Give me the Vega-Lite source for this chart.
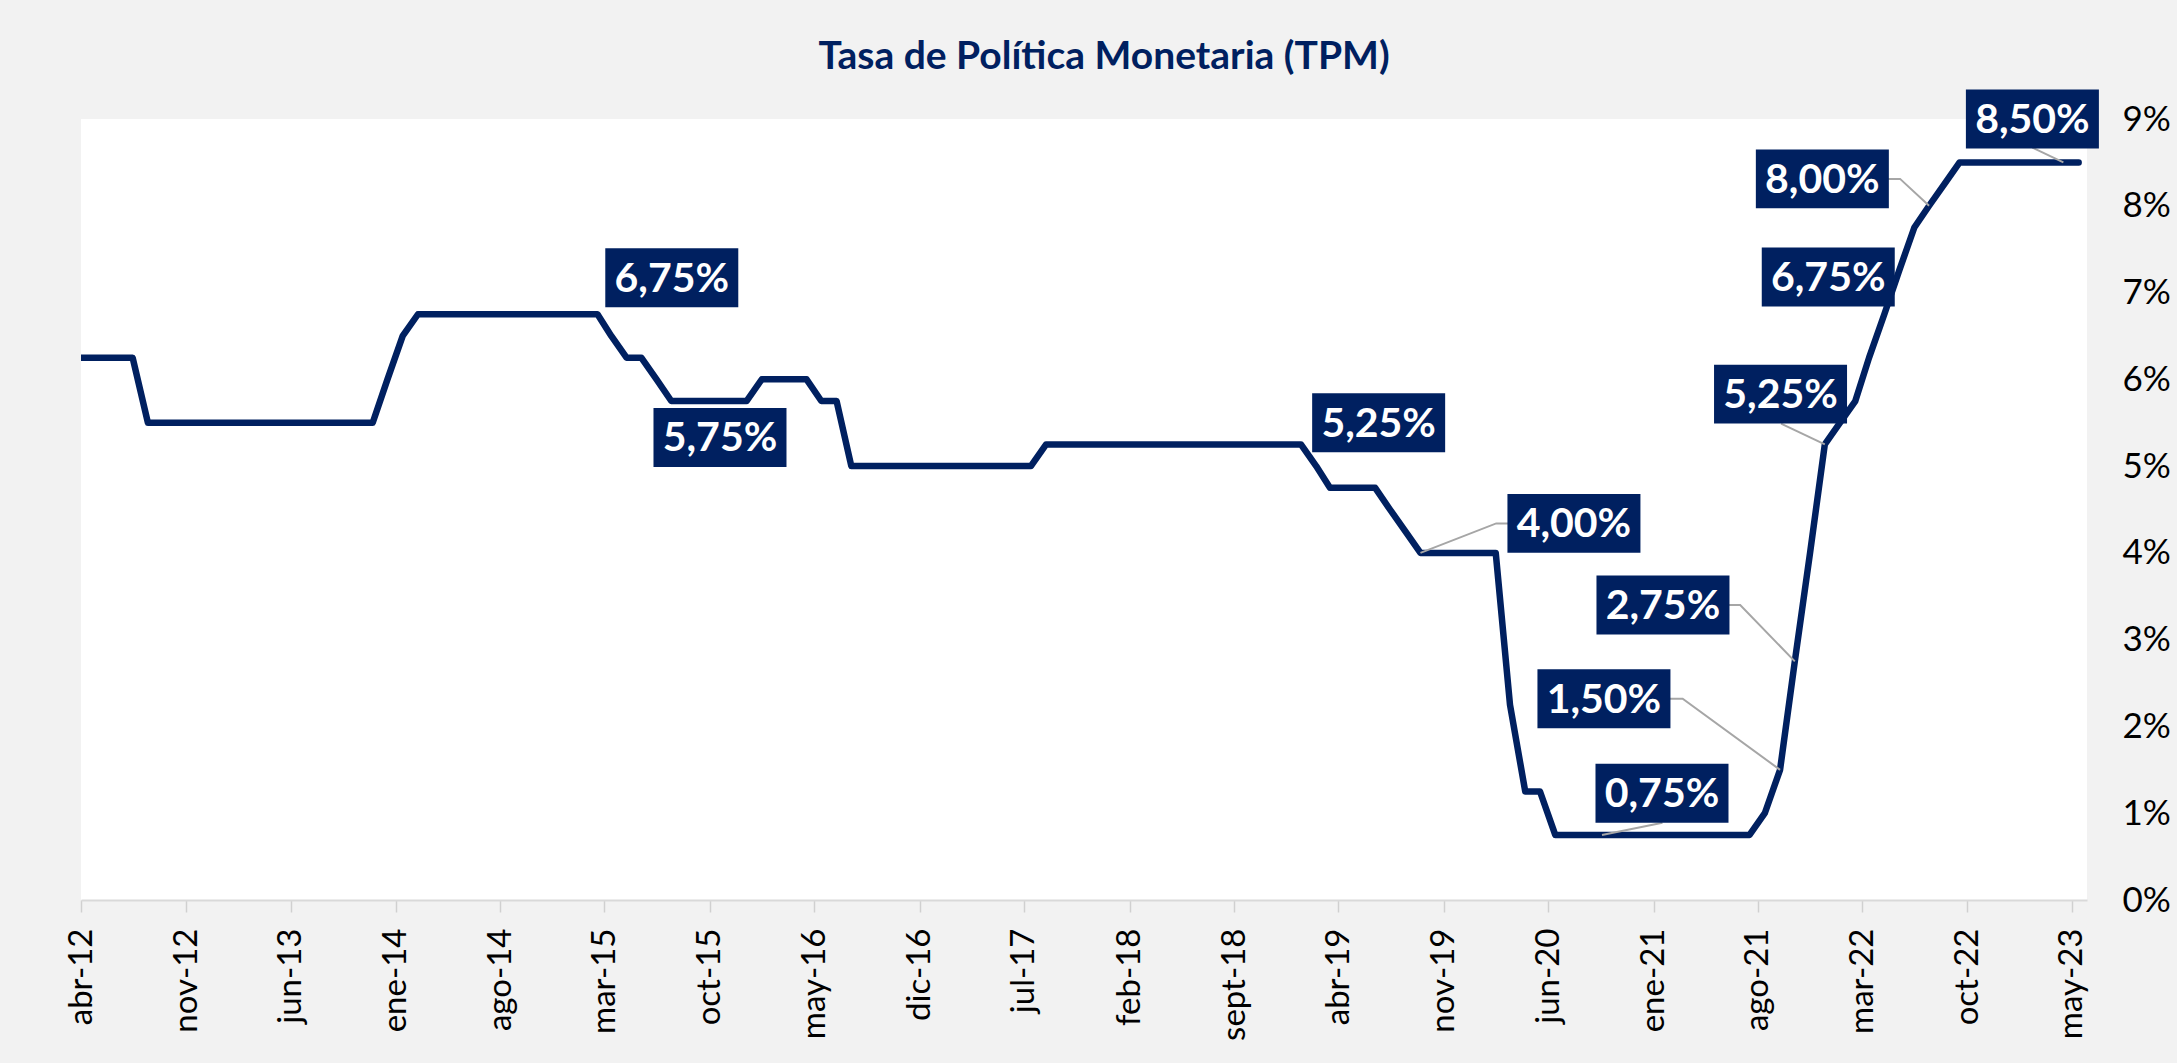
{
  "$schema": "https://vega.github.io/schema/vega-lite/v6.json",
  "width": 2006,
  "height": 781,
  "autosize": "none",
  "padding": {"left": 81, "top": 119, "right": 90, "bottom": 163},
  "background": "#f2f2f2",
  "config": {"view": {"fill": "white", "stroke": null}, "font": "Lato"},
  "title": {"text": "Tasa de Política Monetaria (TPM)", "color": "#002060", "font": "Lato", "fontSize": 39, "fontWeight": "bold", "anchor": "middle", "frame": "group", "baseline": "alphabetic", "offset": -18, "dx": 20},
  "datasets": {
    "tpm": [
      {"date": "2012-03-15", "value": 6.25}, {"date": "2012-04-15", "value": 6.25}, {"date": "2012-05-15", "value": 6.25}, {"date": "2012-06-15", "value": 6.25}, {"date": "2012-07-15", "value": 6.25},
      {"date": "2012-08-15", "value": 5.5}, {"date": "2012-09-15", "value": 5.5}, {"date": "2012-10-15", "value": 5.5}, {"date": "2012-11-15", "value": 5.5}, {"date": "2012-12-15", "value": 5.5},
      {"date": "2013-01-15", "value": 5.5}, {"date": "2013-02-15", "value": 5.5}, {"date": "2013-03-15", "value": 5.5}, {"date": "2013-04-15", "value": 5.5}, {"date": "2013-05-15", "value": 5.5}, {"date": "2013-06-15", "value": 5.5}, {"date": "2013-07-15", "value": 5.5}, {"date": "2013-08-15", "value": 5.5}, {"date": "2013-09-15", "value": 5.5}, {"date": "2013-10-15", "value": 5.5}, {"date": "2013-11-15", "value": 5.5}, {"date": "2013-12-15", "value": 6.0},
      {"date": "2014-01-15", "value": 6.5}, {"date": "2014-02-15", "value": 6.75}, {"date": "2014-03-15", "value": 6.75}, {"date": "2014-04-15", "value": 6.75}, {"date": "2014-05-15", "value": 6.75}, {"date": "2014-06-15", "value": 6.75}, {"date": "2014-07-15", "value": 6.75}, {"date": "2014-08-15", "value": 6.75}, {"date": "2014-09-15", "value": 6.75}, {"date": "2014-10-15", "value": 6.75}, {"date": "2014-11-15", "value": 6.75}, {"date": "2014-12-15", "value": 6.75},
      {"date": "2015-01-15", "value": 6.75}, {"date": "2015-02-15", "value": 6.75}, {"date": "2015-03-15", "value": 6.5}, {"date": "2015-04-15", "value": 6.25}, {"date": "2015-05-15", "value": 6.25}, {"date": "2015-06-15", "value": 6.0}, {"date": "2015-07-15", "value": 5.75}, {"date": "2015-08-15", "value": 5.75}, {"date": "2015-09-15", "value": 5.75}, {"date": "2015-10-15", "value": 5.75}, {"date": "2015-11-15", "value": 5.75}, {"date": "2015-12-15", "value": 5.75},
      {"date": "2016-01-15", "value": 6.0}, {"date": "2016-02-15", "value": 6.0}, {"date": "2016-03-15", "value": 6.0}, {"date": "2016-04-15", "value": 6.0}, {"date": "2016-05-15", "value": 5.75}, {"date": "2016-06-15", "value": 5.75}, {"date": "2016-07-15", "value": 5.0}, {"date": "2016-08-15", "value": 5.0}, {"date": "2016-09-15", "value": 5.0}, {"date": "2016-10-15", "value": 5.0}, {"date": "2016-11-15", "value": 5.0}, {"date": "2016-12-15", "value": 5.0},
      {"date": "2017-01-15", "value": 5.0}, {"date": "2017-02-15", "value": 5.0}, {"date": "2017-03-15", "value": 5.0}, {"date": "2017-04-15", "value": 5.0}, {"date": "2017-05-15", "value": 5.0}, {"date": "2017-06-15", "value": 5.0}, {"date": "2017-07-15", "value": 5.0}, {"date": "2017-08-15", "value": 5.25}, {"date": "2017-09-15", "value": 5.25}, {"date": "2017-10-15", "value": 5.25}, {"date": "2017-11-15", "value": 5.25}, {"date": "2017-12-15", "value": 5.25},
      {"date": "2018-01-15", "value": 5.25}, {"date": "2018-02-15", "value": 5.25}, {"date": "2018-03-15", "value": 5.25}, {"date": "2018-04-15", "value": 5.25}, {"date": "2018-05-15", "value": 5.25}, {"date": "2018-06-15", "value": 5.25}, {"date": "2018-07-15", "value": 5.25}, {"date": "2018-08-15", "value": 5.25}, {"date": "2018-09-15", "value": 5.25}, {"date": "2018-10-15", "value": 5.25}, {"date": "2018-11-15", "value": 5.25}, {"date": "2018-12-15", "value": 5.25},
      {"date": "2019-01-15", "value": 5.25}, {"date": "2019-02-15", "value": 5.0}, {"date": "2019-03-15", "value": 4.75}, {"date": "2019-04-15", "value": 4.75}, {"date": "2019-05-15", "value": 4.75}, {"date": "2019-06-15", "value": 4.75}, {"date": "2019-07-15", "value": 4.5}, {"date": "2019-08-15", "value": 4.25}, {"date": "2019-09-15", "value": 4.0}, {"date": "2019-10-15", "value": 4.0}, {"date": "2019-11-15", "value": 4.0}, {"date": "2019-12-15", "value": 4.0},
      {"date": "2020-01-15", "value": 4.0}, {"date": "2020-02-15", "value": 4.0}, {"date": "2020-03-15", "value": 2.25}, {"date": "2020-04-15", "value": 1.25}, {"date": "2020-05-15", "value": 1.25}, {"date": "2020-06-15", "value": 0.75}, {"date": "2020-07-15", "value": 0.75}, {"date": "2020-08-15", "value": 0.75}, {"date": "2020-09-15", "value": 0.75}, {"date": "2020-10-15", "value": 0.75}, {"date": "2020-11-15", "value": 0.75}, {"date": "2020-12-15", "value": 0.75},
      {"date": "2021-01-15", "value": 0.75}, {"date": "2021-02-15", "value": 0.75}, {"date": "2021-03-15", "value": 0.75}, {"date": "2021-04-15", "value": 0.75}, {"date": "2021-05-15", "value": 0.75}, {"date": "2021-06-15", "value": 0.75}, {"date": "2021-07-15", "value": 0.75}, {"date": "2021-08-15", "value": 1.0}, {"date": "2021-09-15", "value": 1.5}, {"date": "2021-10-15", "value": 2.75}, {"date": "2021-11-15", "value": 4.0}, {"date": "2021-12-15", "value": 5.25},
      {"date": "2022-01-15", "value": 5.5}, {"date": "2022-02-15", "value": 5.75}, {"date": "2022-03-15", "value": 6.25}, {"date": "2022-04-15", "value": 6.75}, {"date": "2022-05-15", "value": 7.25}, {"date": "2022-06-15", "value": 7.75}, {"date": "2022-07-15", "value": 8.0}, {"date": "2022-08-15", "value": 8.25}, {"date": "2022-09-15", "value": 8.5}, {"date": "2022-10-15", "value": 8.5}, {"date": "2022-11-15", "value": 8.5}, {"date": "2022-12-15", "value": 8.5},
      {"date": "2023-01-15", "value": 8.5}, {"date": "2023-02-15", "value": 8.5}, {"date": "2023-03-15", "value": 8.5}, {"date": "2023-04-15", "value": 8.5}, {"date": "2023-05-15", "value": 8.5}
    ],
    "labels": [
      {"date": "2015-07-16", "value": 7.17, "label": "6,75%"},
      {"date": "2015-10-22", "value": 5.33, "label": "5,75%"},
      {"date": "2019-06-22", "value": 5.5, "label": "5,25%"},
      {"date": "2020-07-23", "value": 4.34, "label": "4,00%"},
      {"date": "2021-01-20", "value": 3.4, "label": "2,75%"},
      {"date": "2020-09-22", "value": 2.32, "label": "1,50%"},
      {"date": "2021-01-18", "value": 1.23, "label": "0,75%"},
      {"date": "2021-09-16", "value": 5.83, "label": "5,25%"},
      {"date": "2021-12-22", "value": 7.18, "label": "6,75%"},
      {"date": "2021-12-10", "value": 8.31, "label": "8,00%"},
      {"date": "2023-02-10", "value": 9.0, "label": "8,50%"}
    ],
    "leaders": [
      {"id": "a", "ord": 1, "date": "2019-09-15", "value": 4.0},
      {"id": "a", "ord": 2, "date": "2020-02-16", "value": 4.34},
      {"id": "a", "ord": 3, "date": "2020-07-23", "value": 4.34},
      {"id": "b", "ord": 1, "date": "2021-10-15", "value": 2.75},
      {"id": "b", "ord": 2, "date": "2021-06-26", "value": 3.4},
      {"id": "b", "ord": 3, "date": "2021-01-20", "value": 3.4},
      {"id": "c", "ord": 1, "date": "2021-09-15", "value": 1.5},
      {"id": "c", "ord": 2, "date": "2021-03-01", "value": 2.32},
      {"id": "c", "ord": 3, "date": "2020-09-22", "value": 2.32},
      {"id": "d", "ord": 1, "date": "2020-09-18", "value": 0.75},
      {"id": "d", "ord": 2, "date": "2021-01-19", "value": 0.89},
      {"id": "e", "ord": 1, "date": "2021-12-15", "value": 5.25},
      {"id": "e", "ord": 2, "date": "2021-09-17", "value": 5.49},
      {"id": "f", "ord": 1, "date": "2022-07-15", "value": 8.0},
      {"id": "f", "ord": 2, "date": "2022-05-17", "value": 8.31},
      {"id": "f", "ord": 3, "date": "2021-12-10", "value": 8.31},
      {"id": "g", "ord": 1, "date": "2023-04-14", "value": 8.5},
      {"id": "g", "ord": 2, "date": "2023-02-10", "value": 8.67}
    ]
  },
  "encoding": {
    "x": {
      "field": "date", "type": "temporal",
      "scale": {"type": "utc", "domain": [{"year": 2012, "month": 4, "date": 1, "utc": true}, {"year": 2023, "month": 6, "date": 1, "utc": true}], "nice": false},
      "axis": {
        "title": null, "grid": false,
        "values": [
          {"year": 2012, "month": 4, "date": 1, "utc": true}, {"year": 2012, "month": 11, "date": 1, "utc": true},
          {"year": 2013, "month": 6, "date": 1, "utc": true}, {"year": 2014, "month": 1, "date": 1, "utc": true},
          {"year": 2014, "month": 8, "date": 1, "utc": true}, {"year": 2015, "month": 3, "date": 1, "utc": true},
          {"year": 2015, "month": 10, "date": 1, "utc": true}, {"year": 2016, "month": 5, "date": 1, "utc": true},
          {"year": 2016, "month": 12, "date": 1, "utc": true}, {"year": 2017, "month": 7, "date": 1, "utc": true},
          {"year": 2018, "month": 2, "date": 1, "utc": true}, {"year": 2018, "month": 9, "date": 1, "utc": true},
          {"year": 2019, "month": 4, "date": 1, "utc": true}, {"year": 2019, "month": 11, "date": 1, "utc": true},
          {"year": 2020, "month": 6, "date": 1, "utc": true}, {"year": 2021, "month": 1, "date": 1, "utc": true},
          {"year": 2021, "month": 8, "date": 1, "utc": true}, {"year": 2022, "month": 3, "date": 1, "utc": true},
          {"year": 2022, "month": 10, "date": 1, "utc": true}, {"year": 2023, "month": 5, "date": 1, "utc": true}
        ],
        "labelExpr": "['ene','feb','mar','abr','may','jun','jul','ago','sept','oct','nov','dic'][utcmonth(datum.value)] + '-' + utcFormat(datum.value, '%y')",
        "labelAngle": -90, "labelFontSize": 33, "labelFont": "Lato", "labelColor": "#000000",
        "labelPadding": 16, "labelOverlap": false, "labelFlush": false, "labelBound": false,
        "tickSize": 12, "tickColor": "#d0d0d0", "tickWidth": 1.5,
        "domainColor": "#d9d9d9", "domainWidth": 2
      }
    },
    "y": {
      "field": "value", "type": "quantitative",
      "scale": {"domain": [0, 9], "nice": false, "zero": true},
      "axis": {
        "orient": "right", "title": null, "grid": false, "domain": false, "ticks": false,
        "values": [0, 1, 2, 3, 4, 5, 6, 7, 8, 9],
        "labelExpr": "datum.value + '%'",
        "labelFontSize": 35, "labelFont": "Lato", "labelColor": "#000000", "labelPadding": 35
      }
    }
  },
  "layer": [
    {
      "data": {"name": "tpm"},
      "mark": {"type": "line", "color": "#002060", "strokeWidth": 6.5, "strokeCap": "round", "strokeJoin": "round", "clip": true}
    },
    {
      "data": {"name": "leaders"},
      "mark": {"type": "line", "color": "#a6a6a6", "strokeWidth": 2},
      "encoding": {"detail": {"field": "id"}, "order": {"field": "ord", "type": "quantitative"}}
    },
    {
      "data": {"name": "labels"},
      "mark": {"type": "point", "shape": "M-1,-0.443L1,-0.443L1,0.443L-1,0.443Z", "size": 17689, "filled": true, "color": "#002060", "opacity": 1, "strokeWidth": 0}
    },
    {
      "data": {"name": "labels"},
      "mark": {"type": "text", "color": "#ffffff", "font": "Lato", "fontSize": 41, "fontWeight": "bold", "align": "center", "baseline": "middle", "dy": 2},
      "encoding": {"text": {"field": "label"}}
    }
  ]
}
